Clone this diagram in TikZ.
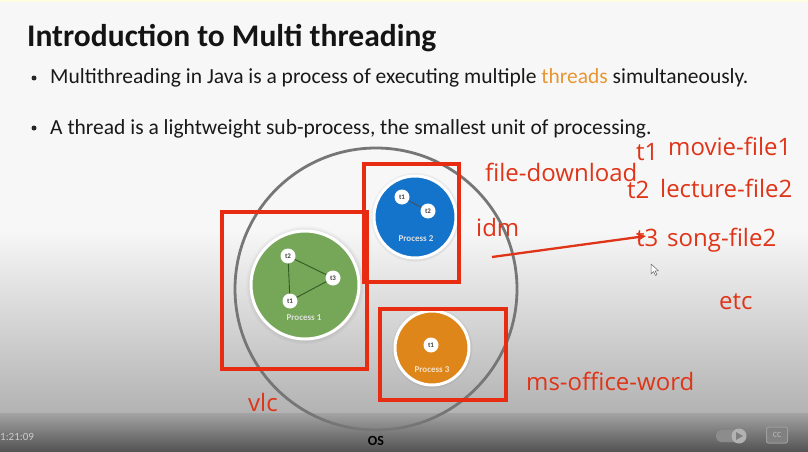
\documentclass[tikz,border=0pt]{standalone}
\usepackage{fontspec}
\setmainfont{Carlito}
\newfontfamily\ink{Open Sans}
\usetikzlibrary{shadows,arrows.meta}
\definecolor{inkred}{RGB}{224,52,24}
\definecolor{boxred}{RGB}{232,44,18}
\definecolor{procgreen}{RGB}{118,166,88}
\definecolor{procblue}{RGB}{20,116,204}
\definecolor{procorange}{RGB}{222,134,26}
\definecolor{orgray}{RGB}{118,118,118}
\definecolor{threadorange}{RGB}{232,150,50}
\definecolor{linkgreen}{RGB}{50,90,35}
\begin{document}
\begin{tikzpicture}[x=1pt,y=-1pt,
  inktext/.style={text=inkred, font=\ink\fontsize{24}{26}\selectfont, inner sep=0pt, anchor=base west},
  frame/.style={draw=boxred, line width=3.8pt},
  proc/.style={circle, draw=white, line width=3pt, inner sep=0pt,
    circular drop shadow={shadow xshift=0pt, shadow yshift=0pt, shadow scale=1.1, opacity=.4}},
  thread/.style={circle, fill=white, inner sep=0pt, minimum size=15pt,
    font=\bfseries\fontsize{7}{7}\selectfont, text=black!75},
  plabel/.style={font=\bfseries\fontsize{9}{9}\selectfont, text=white!88!black, inner sep=0pt},
  bodytext/.style={font=\fontsize{21.5}{24}\selectfont, text=black!90, inner sep=0pt, anchor=base west},
  link/.style={draw=linkgreen, line width=0.9pt}
]
\useasboundingbox (0,0) rectangle (808,452);

% slide background with the darkening bottom band
\fill[white!97!black] (0,0) rectangle (808,230);
\shade[top color=white!97!black, bottom color=white!70!black] (0,230) rectangle (808,413);
\shade[top color=white!64!black, bottom color=white!32!black] (0,413) rectangle (808,452);
\fill[yellow!12] (0,0) rectangle (808,2);

% title and bullets
\node[anchor=base west, inner sep=0pt, text=black!92] (title) at (27,47)
  {\bfseries\fontsize{31.5}{34}\selectfont Introduction to Multi threading};
\node[circle, fill=black!85, inner sep=0pt, minimum size=5pt] (b1) at (34,78) {};
\node[bodytext] (l1) at (50,84) {Multithreading in Java is a process of executing multiple \textcolor{threadorange}{threads} simultaneously.};
\node[circle, fill=black!85, inner sep=0pt, minimum size=5pt] (b2) at (34,128) {};
\node[bodytext] (l2) at (50,134) {A thread is a lightweight sub-process, the smallest unit of processing.};

% operating system boundary
\node[circle, draw=orgray, line width=2.8pt, minimum size=282pt, inner sep=0pt] (os) at (376,289) {};
\node[font=\bfseries\fontsize{14}{14}\selectfont, inner sep=0pt] (oslabel) at (376,441) {OS};

% process 1
\node[proc, fill=procgreen, minimum size=108pt] (p1) at (305,285) {};
\node[thread] (p1t2) at (288,256) {t2};
\node[thread] (p1t3) at (333,278) {t3};
\node[thread] (p1t1) at (290,301) {t1};
\draw[link] (p1t2) -- (p1t3);
\draw[link] (p1t3) -- (p1t1);
\draw[link] (p1t1) -- (p1t2);
\node[plabel] (p1l) at (304,318) {Process 1};

% process 2
\node[proc, fill=procblue, minimum size=82pt] (p2) at (415,217) {};
\node[thread] (p2t1) at (402,197) {t1};
\node[thread] (p2t2) at (428,211) {t2};
\draw[draw=black!70, line width=0.8pt] (p2t1) -- (p2t2);
\node[plabel] (p2l) at (416,239) {Process 2};

% process 3
\node[proc, fill=procorange, minimum size=74pt] (p3) at (432,348) {};
\node[thread] (p3t1) at (431,345) {t1};
\node[plabel, text=white!75!procorange] (p3l) at (432,370) {Process 3};

% highlight frames
\draw[frame] (222,212) rectangle (367,369);
\draw[frame] (364,164) rectangle (459,282);
\draw[frame] (380,309) rectangle (506,400);

% handwritten notes
\node[inktext] (fd) at (485,181) {file-download};
\node[inktext] (idm) at (476,236) {idm};
\node[inktext] (vlc) at (248,411) {vlc};
\node[inktext] (msw) at (526,390) {ms-office-word};
\node[inktext] (etc) at (719,309) {etc};
\node[inktext] (n1) at (636,160) {t1};
\node[inktext] (f1) at (668,155) {movie-file1};
\node[inktext] (n2) at (627,198) {t2};
\node[inktext] (f2) at (660,197) {lecture-file2};
\node[inktext] (n3) at (636,246) {t3};
\node[inktext] (f3) at (667,246) {song-file2};
\coordinate (arrstart) at (492,257);
\coordinate (arrend) at (646,236);
\draw[draw=inkred, line width=2.3pt, -{Stealth[length=9pt,width=8pt]}] (arrstart) -- (arrend);

% mouse pointer
\draw[fill=white, draw=black!60, line width=0.5pt, line join=round]
  (651,264) -- (651,274) -- (653.5,271.5) -- (655.5,275.5) -- (657,274.8) -- (655,270.8) -- (658.5,270.8) -- cycle;

% player overlay
\node[anchor=base west, inner sep=0pt, text=white!80!black, font=\fontsize{11}{12}\selectfont] (time) at (0,440) {1:21:09};
\fill[white!55!black, rounded corners=5pt] (716,430) rectangle (744,442);
\node[circle, fill=white!70!black, minimum size=15pt, inner sep=0pt] (play) at (739,436) {};
\fill[white!50!black] (736,432) -- (736,440) -- (743,436) -- cycle;
\node[draw=white!62!black, fill=white!50!black, line width=1pt, rounded corners=2pt,
  minimum width=21pt, minimum height=16pt, inner sep=0pt, text=white!68!black,
  font=\bfseries\fontsize{8}{8}\selectfont] (cc) at (777,435) {CC};
\end{tikzpicture}
\end{document}
